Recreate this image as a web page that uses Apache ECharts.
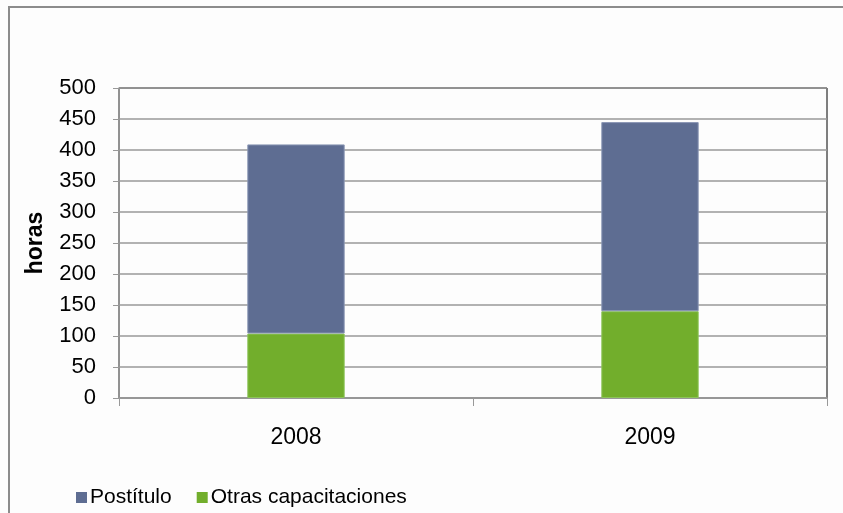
<!DOCTYPE html>
<html><head><meta charset="utf-8">
<script src="https://cdn.jsdelivr.net/npm/echarts@6/dist/echarts.min.js"></script>
<style>html,body{margin:0;padding:0;background:#fdfdfd}#c{width:843px;height:513px}</style>
</head><body><div id="c"></div>
<script>
const categories = ['2008', '2009'];
const postitulo = [305, 305];
const otras = [104, 140];
const yTicks = [0, 50, 100, 150, 200, 250, 300, 350, 400, 450, 500];

const chart = echarts.init(document.getElementById('c'));
const font = 'Liberation Sans, Arial, sans-serif';
chart.setOption({
  animation: false,
  backgroundColor: '#fdfdfd',
  graphic: [{
    type: 'rect', silent: true, z: -1,
    shape: { x: 9, y: 7, width: 900, height: 600 },
    style: { fill: 'none', stroke: '#8c8c8c', lineWidth: 2 }
  }],
  grid: { left: 119, right: 16, top: 88, bottom: 115, show: true, borderColor: '#000', borderWidth: 1, backgroundColor: 'transparent' },
  legend: {
    left: 71, top: 482, itemWidth: 11, itemHeight: 11, itemGap: 25,
    icon: 'rect',
    itemStyle: { borderWidth: 0 },
    textStyle: { fontFamily: font, fontSize: 21, color: '#000', padding: [0, 0, 0, -2] },
    data: ['Postítulo', 'Otras capacitaciones']
  },
  xAxis: {
    type: 'category', data: categories,
    axisLine: { lineStyle: { color: '#999', width: 1.5 } },
    axisTick: { show: true, length: 8, alignWithLabel: false, lineStyle: { color: '#999' } },
    axisLabel: { fontFamily: font, fontSize: 23, color: '#000', margin: 28 }
  },
  yAxis: {
    type: 'value', min: 0, max: 500, interval: 50,
    name: 'horas', nameLocation: 'middle', nameGap: 72, nameRotate: 90,
    nameTextStyle: { fontFamily: font, fontSize: 23, fontWeight: 'bold', color: '#000' },
    axisLine: { show: true, lineStyle: { color: '#999', width: 1.5 } },
    axisTick: { show: true, length: 6, lineStyle: { color: '#999' } },
    splitLine: { lineStyle: { color: '#999', width: 1.5 } },
    axisLabel: { fontFamily: font, fontSize: 22, color: '#000', margin: 23,
      formatter: v => yTicks.includes(v) ? String(v) : '' }
  },
  series: [
    { name: 'Otras capacitaciones', type: 'bar', stack: 't', data: otras, barWidth: '27.5%',
      itemStyle: { color: '#72ae2c', borderColor: '#8cc45a', borderWidth: 1 } },
    { name: 'Postítulo', type: 'bar', stack: 't', data: postitulo, barWidth: '27.5%',
      itemStyle: { color: '#5e6d92', borderColor: '#8a96b4', borderWidth: 1 } }
  ]
});
</script></body></html>
